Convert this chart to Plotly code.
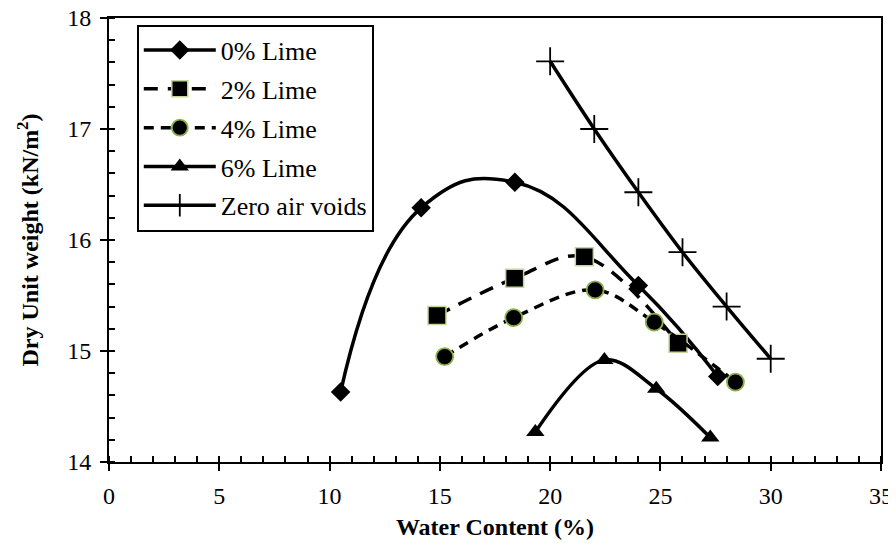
import plotly.graph_objects as go

# Data
lime0_x = [10.5, 14.15, 18.4, 24.0, 27.6]
lime0_y = [14.63, 16.29, 16.52, 15.59, 14.77]

lime2_x = [14.87, 18.39, 21.55, 25.8]
lime2_y = [15.32, 15.655, 15.85, 15.07]

lime4_x = [15.22, 18.35, 22.04, 24.72, 28.4]
lime4_y = [14.95, 15.30, 15.55, 15.26, 14.72]

lime6_x = [19.33, 22.46, 24.81, 27.26]
lime6_y = [14.27, 14.92, 14.66, 14.22]

zav_x = [20, 22, 24, 26, 28, 30]
zav_y = [17.61, 17.0, 16.43, 15.89, 15.40, 14.93]

FONT = "Liberation Serif"

fig = go.Figure()

fig.add_trace(go.Scatter(
    x=lime0_x, y=lime0_y, name="0% Lime", mode="lines+markers", legendgroup="a",
    line=dict(color="black", width=3.5, shape="spline", smoothing=1.3),
    marker=dict(symbol="diamond", size=15, color="black"),
))
fig.add_trace(go.Scatter(
    x=lime2_x, y=lime2_y, name="2% Lime", mode="lines+markers", legendgroup="b",
    line=dict(color="black", width=3.5, dash="14px,10px", shape="spline", smoothing=1.0),
    marker=dict(symbol="square", size=18, color="black",
                line=dict(color="#c4d79b", width=1.5)),
))
fig.add_trace(go.Scatter(
    x=lime4_x, y=lime4_y, name="4% Lime", mode="lines+markers", legendgroup="c",
    line=dict(color="black", width=3.5, dash="10px,7px", shape="spline", smoothing=1.0),
    marker=dict(symbol="circle", size=17, color="black",
                line=dict(color="#8db04a", width=1.8)),
))
fig.add_trace(go.Scatter(
    x=lime6_x, y=lime6_y, name="6% Lime", mode="lines+markers", legendgroup="d",
    line=dict(color="black", width=3.5, shape="spline", smoothing=1.0),
    marker=dict(symbol="triangle-up", size=16, color="black"),
))
fig.add_trace(go.Scatter(
    x=zav_x, y=zav_y, name="Zero air voids", mode="lines+markers", legendgroup="e",
    line=dict(color="black", width=3.5, shape="spline", smoothing=1.0),
    marker=dict(symbol="cross-thin", size=20, color="black",
                line=dict(color="black", width=1.8)),
))

# overlay axes to draw the inward half of the major ticks (crossing ticks)
fig.add_trace(go.Scatter(x=[None], y=[None], xaxis="x2", yaxis="y2",
                         showlegend=False, hoverinfo="skip"))

# The page body has an 8px default margin, so the figure is sized/offset to compensate
fig.update_layout(
    width=888, height=537,
    margin=dict(l=101, r=15, t=10, b=83),
    paper_bgcolor="white", plot_bgcolor="white",
    font=dict(family=FONT, size=24, color="black"),
    showlegend=True,
    legend=dict(
        x=0.036, y=0.985, xanchor="left", yanchor="top",
        bgcolor="white", bordercolor="black", borderwidth=2,
        font=dict(family=FONT, size=26, color="black"),
        tracegroupgap=2, itemwidth=72,
    ),
    xaxis=dict(
        range=[0, 35], dtick=5, tick0=0, automargin=False,
        showgrid=False, zeroline=False,
        showline=True, linecolor="black", linewidth=2, mirror=True,
        ticks="outside", ticklen=7, tickwidth=2, tickcolor="black",
        ticklabelstandoff=4, ticklabeloverflow="allow",
        minor=dict(ticks="inside", dtick=1, ticklen=6, tickwidth=1.5, tickcolor="black"),
        title=dict(text="<b>Water Content (%)</b>", font=dict(family=FONT, size=24), standoff=10),
        tickfont=dict(family=FONT, size=24),
    ),
    yaxis=dict(
        range=[14, 18], dtick=1, tick0=14, automargin=False,
        showgrid=False, zeroline=False,
        showline=True, linecolor="black", linewidth=2, mirror=True,
        ticks="outside", ticklen=7, tickwidth=2, tickcolor="black",
        ticklabelstandoff=4, ticklabeloverflow="allow",
        minor=dict(ticks="inside", dtick=0.2, ticklen=6, tickwidth=1.5, tickcolor="black"),
        title=dict(text="<b>Dry Unit weight (kN/m<sup>2</sup>)</b>", font=dict(family=FONT, size=24), standoff=22),
        tickfont=dict(family=FONT, size=24),
    ),
    xaxis2=dict(
        range=[0, 35], dtick=5, tick0=0, overlaying="x", side="bottom", automargin=False,
        showgrid=False, zeroline=False, showline=False, showticklabels=False,
        ticks="inside", ticklen=6, tickwidth=2, tickcolor="black",
    ),
    yaxis2=dict(
        range=[14, 18], dtick=1, tick0=14, overlaying="y", side="left", automargin=False,
        showgrid=False, zeroline=False, showline=False, showticklabels=False,
        ticks="inside", ticklen=6, tickwidth=2, tickcolor="black",
    ),
)

fig.write_html("out.html")
